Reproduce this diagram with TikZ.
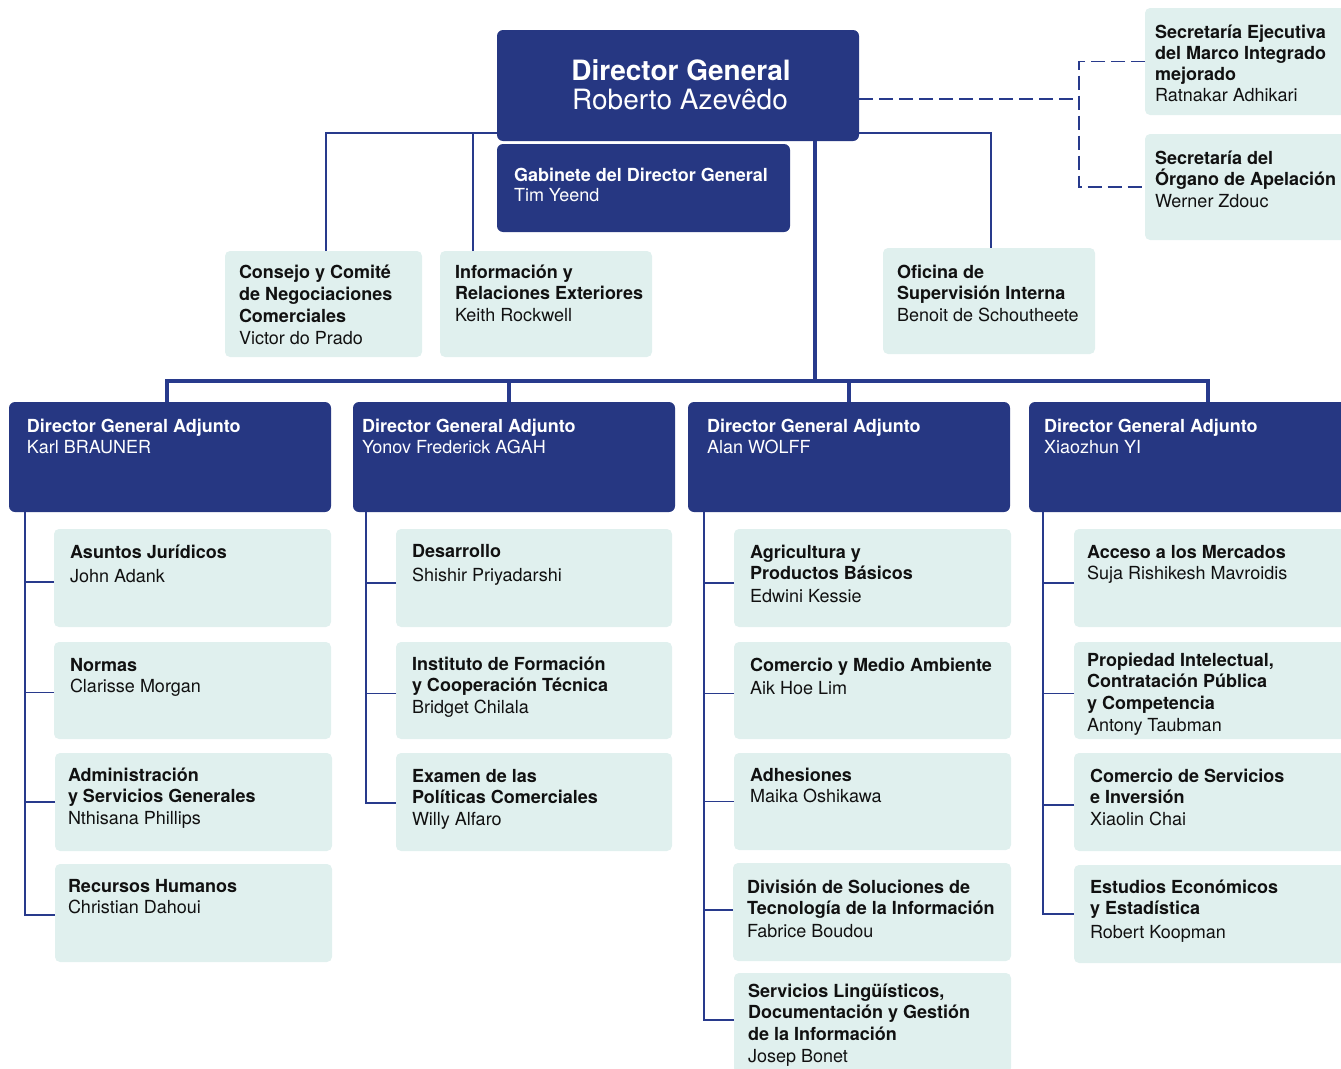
\documentclass[tikz,border=0pt]{standalone}
\usepackage{fontspec}
\setmainfont{TeX Gyre Heros}
\definecolor{dblue}{RGB}{38,55,130}
\definecolor{lblue}{RGB}{224,240,238}
\definecolor{linec}{RGB}{40,58,140}
\definecolor{txtc}{RGB}{17,17,17}
\begin{document}
\begin{tikzpicture}[x=1pt,y=-1pt,
  dbox/.style={fill=dblue, rounded corners=6pt, inner sep=0pt, outer sep=0pt, anchor=north west},
  lbox/.style={fill=lblue, rounded corners=5pt, inner sep=0pt, outer sep=0pt, anchor=north west},
  tx/.style={anchor=base west, inner sep=0pt, outer sep=0pt, text=txtc, font=\fontsize{18}{21.7}\selectfont},
  wtx/.style={tx, text=white},
  thinline/.style={draw=linec, line width=1.8pt},
  thickline/.style={draw=linec, line width=4pt},
  dashline/.style={draw=linec, line width=1.8pt, dash pattern=on 14pt off 6pt}]
\useasboundingbox (0,0) rectangle (1341,1068);
\newcommand{\blk}[3][0pt]{\parbox[t]{420pt}{{\bfseries #2}\\[#1]#3}}

% ---------- boxes ----------
\node[dbox, minimum width=362pt, minimum height=111pt] (dg) at (497,30) {};
\node[dbox, minimum width=293pt, minimum height=88pt] (gab) at (497,144) {};
\node[lbox, minimum width=197pt, minimum height=106pt] (cons) at (225,251) {};
\node[lbox, minimum width=212pt, minimum height=106pt] (info) at (440,251) {};
\node[lbox, minimum width=212pt, minimum height=106pt] (ofi) at (883,248) {};
\node[lbox, minimum width=215pt, minimum height=107pt] (sec1) at (1145,8) {};
\node[lbox, minimum width=215pt, minimum height=106pt] (sec2) at (1145,134) {};

\node[dbox, minimum width=322pt, minimum height=110pt] (a1) at (9,402) {};
\node[dbox, minimum width=322pt, minimum height=110pt] (a2) at (353,402) {};
\node[dbox, minimum width=322pt, minimum height=110pt] (a3) at (688,402) {};
\node[dbox, minimum width=330pt, minimum height=110pt] (a4) at (1029,402) {};

\node[lbox, minimum width=277pt, minimum height=98pt] (b11) at (54,529) {};
\node[lbox, minimum width=277pt, minimum height=97pt] (b12) at (54,642) {};
\node[lbox, minimum width=277pt, minimum height=98pt] (b13) at (55,753) {};
\node[lbox, minimum width=277pt, minimum height=98pt] (b14) at (55,864) {};

\node[lbox, minimum width=276pt, minimum height=98pt] (b21) at (396,529) {};
\node[lbox, minimum width=276pt, minimum height=97pt] (b22) at (396,642) {};
\node[lbox, minimum width=276pt, minimum height=98pt] (b23) at (396,753) {};

\node[lbox, minimum width=277pt, minimum height=98pt] (b31) at (734,529) {};
\node[lbox, minimum width=277pt, minimum height=97pt] (b32) at (734,642) {};
\node[lbox, minimum width=277pt, minimum height=97pt] (b33) at (734,753) {};
\node[lbox, minimum width=278pt, minimum height=98pt] (b34) at (733,863) {};
\node[lbox, minimum width=277pt, minimum height=100pt] (b35) at (734,973) {};

\node[lbox, minimum width=285pt, minimum height=98pt] (b41) at (1074,529) {};
\node[lbox, minimum width=285pt, minimum height=97pt] (b42) at (1074,642) {};
\node[lbox, minimum width=285pt, minimum height=98pt] (b43) at (1074,753) {};
\node[lbox, minimum width=285pt, minimum height=98pt] (b44) at (1074,865) {};

% ---------- connectors ----------
\coordinate (j1) at ([yshift=8pt]dg.south west);
\coordinate (j2) at ([yshift=8pt]dg.south east);
\coordinate (kc) at ([xshift=101pt]cons.north west);
\coordinate (ki) at ([xshift=33pt]info.north west);
\coordinate (ko) at ([xshift=108pt]ofi.north west);
\draw[thinline] (kc) |- (j1);
\draw[thinline] (ki) -- (ki |- j1);
\draw[thinline] (j2) -| (ko);

\coordinate (dd) at ([yshift=-13.5pt]dg.east);
\coordinate (dj) at (1079,99);
\draw[dashline] (dd) -- (dj);
\draw[dashline] (sec1.west) -| (dj) |- (sec2.west);

\coordinate (ds) at ([xshift=318pt]dg.south west);
\coordinate (bus) at (0,381);
\coordinate (k1) at ([xshift=158pt]a1.north west);
\coordinate (k2) at ([xshift=156pt]a2.north west);
\coordinate (k3) at ([xshift=161pt]a3.north west);
\coordinate (k4) at ([xshift=179pt]a4.north west);
\draw[thickline] (ds) -- (ds |- bus);
\draw[thickline] (k1) -- (k1 |- bus) -- (k4 |- bus) -- (k4);
\draw[thickline] (k2) -- (k2 |- bus);
\draw[thickline] (k3) -- (k3 |- bus);

\coordinate (v1) at ([xshift=16pt]a1.south west);
\coordinate (v2) at ([xshift=13pt]a2.south west);
\coordinate (v3) at ([xshift=16pt]a3.south west);
\coordinate (v4) at ([xshift=14pt]a4.south west);
\draw[thinline] (v1) |- ([yshift=-2pt]b14.west);
\draw[thinline] ([yshift=-4pt]b11.west) -| (v1);
\draw[thinline] ([yshift=-2pt]b12.west) -| (v1);
\draw[thinline] (b13.west) -| (v1);
\draw[thinline] (v2) |- ([yshift=-1pt]b23.west);
\draw[thinline] ([yshift=-5pt]b21.west) -| (v2);
\draw[thinline] ([yshift=-3pt]b22.west) -| (v2);
\draw[thinline] (v3) |- ([yshift=3pt]b35.west);
\draw[thinline] ([yshift=-5pt]b31.west) -| (v3);
\draw[thinline] ([yshift=-3pt]b32.west) -| (v3);
\draw[thinline] (b33.west) -| (v3);
\draw[thinline] ([yshift=2pt]b34.west) -| (v3);
\draw[thinline] (v4) |- (b44.west);
\draw[thinline] ([yshift=-5pt]b41.west) -| (v4);
\draw[thinline] ([yshift=-3pt]b42.west) -| (v4);
\draw[thinline] ([yshift=-3pt]b43.west) -| (v4);

% ---------- texts ----------
\node[anchor=base, inner sep=0pt, text=white, font=\bfseries\fontsize{28}{33}\selectfont] (tdg1) at (681,80) {Director General};
\node[anchor=base, inner sep=0pt, text=white, font=\fontsize{28}{33}\selectfont] (tdg2) at (680,109) {Roberto Azevêdo};
\node[wtx, font=\fontsize{18}{20}\selectfont] (tgab) at (514,181) {\blk{Gabinete del Director General}{Tim Yeend}};

\node[tx, font=\fontsize{18}{22}\selectfont] (tcons) at (239,278) {\blk{Consejo y Comité\\de Negociaciones\\Comerciales}{Victor do Prado}};
\node[tx] (tinfo) at (455,278) {\blk{Información y\\Relaciones Exteriores}{Keith Rockwell}};
\node[tx] (tofi) at (897,278) {\blk{Oficina de\\Supervisión Interna}{Benoit de Schoutheete}};
\node[tx, font=\fontsize{18}{21.2}\selectfont] (tsec1) at (1155,38) {\blk{Secretaría Ejecutiva\\del Marco Integrado\\mejorado}{Ratnakar Adhikari}};
\node[tx, font=\fontsize{18}{21.5}\selectfont] (tsec2) at (1155,164) {\blk{Secretaría del\\Órgano de Apelación}{Werner Zdouc}};

\node[wtx] (ta1) at (27,432) {\blk{Director General Adjunto}{Karl BRAUNER}};
\node[wtx] (ta2) at (362,432) {\blk{Director General Adjunto}{Yonov Frederick AGAH}};
\node[wtx] (ta3) at (707,432) {\blk{Director General Adjunto}{Alan WOLFF}};
\node[wtx] (ta4) at (1044,432) {\blk{Director General Adjunto}{Xiaozhun YI}};

\node[tx] (tb11) at (70,558) {\blk[3pt]{Asuntos Jurídicos}{John Adank}};
\node[tx] (tb12) at (70,671) {\blk{Normas}{Clarisse Morgan}};
\node[tx] (tb13) at (68,781) {\blk{Administración\\y Servicios Generales}{Nthisana Phillips}};
\node[tx] (tb14) at (68,892) {\blk{Recursos Humanos}{Christian Dahoui}};

\node[tx] (tb21) at (412,557) {\blk[2.5pt]{Desarrollo}{Shishir Priyadarshi}};
\node[tx] (tb22) at (412,670) {\blk{Instituto de Formación\\y Cooperación Técnica}{Bridget Chilala}};
\node[tx] (tb23) at (412,782) {\blk{Examen de las\\Políticas Comerciales}{Willy Alfaro}};

\node[tx] (tb31) at (750,558) {\blk[1.3pt]{Agricultura y\\Productos Básicos}{Edwini Kessie}};
\node[tx] (tb32) at (750,671) {\blk[1.5pt]{Comercio y Medio Ambiente}{Aik Hoe Lim}};
\node[tx] (tb33) at (750,781) {\blk{Adhesiones}{Maika Oshikawa}};
\node[tx] (tb34) at (747,893) {\blk[1.3pt]{División de Soluciones de\\Tecnología de la Información}{Fabrice Boudou}};
\node[tx] (tb35) at (748,997) {\blk{Servicios Lingüísticos,\\Documentación y Gestión\\de la Información}{Josep Bonet}};

\node[tx] (tb41) at (1087,558) {\blk{Acceso a los Mercados}{Suja Rishikesh Mavroidis}};
\node[tx] (tb42) at (1087,666) {\blk{Propiedad Intelectual,\\Contratación Pública\\y Competencia}{Antony Taubman}};
\node[tx] (tb43) at (1090,782) {\blk{Comercio de Servicios\\e Inversión}{Xiaolin Chai}};
\node[tx] (tb44) at (1090,893) {\blk[2.5pt]{Estudios Económicos\\y Estadística}{Robert Koopman}};
\end{tikzpicture}
\end{document}
